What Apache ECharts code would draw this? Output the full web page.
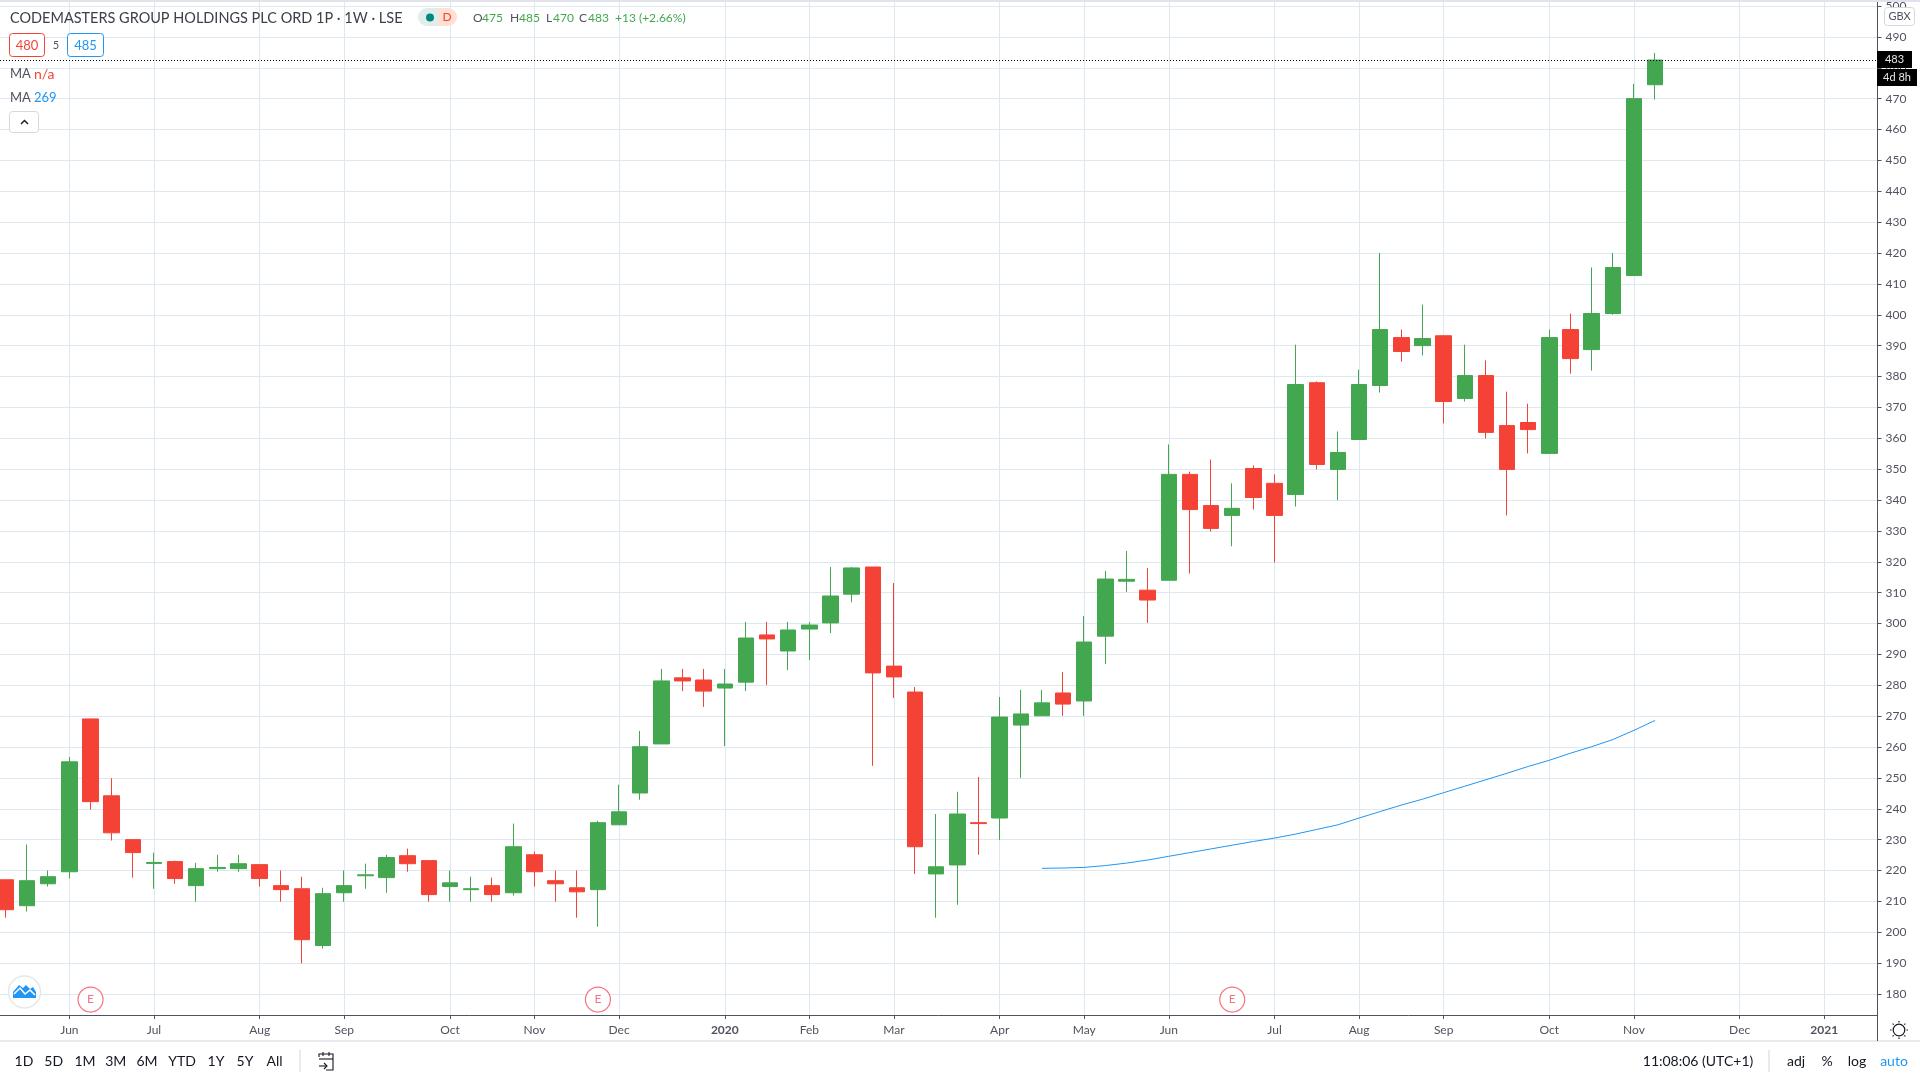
<!DOCTYPE html>
<html><head><meta charset="utf-8">
<style>html,body{margin:0;padding:0;background:#fff}#c{width:1920px;height:1080px}</style>
<script src="https://cdn.jsdelivr.net/npm/echarts@6/dist/echarts.min.js"></script>
</head><body><div id="c"></div>
<script>
const opens = [217,208.6,215.7,219.6,269.1,244.2,230,222.3,222.9,215.1,220.6,220.6,221.9,215.1,214.1,195.7,212.8,218.3,217.7,224.8,223.2,214.8,213.8,215.1,212.8,225.1,216.7,214.4,213.8,234.8,245.1,261,282.4,281.7,279.1,281,296.3,291.1,298.2,300.2,309.5,318.3,286.2,277.8,218.9,221.8,235.5,237,267.1,270.1,277.5,274.9,295.9,313.7,310.8,314,348.3,338.2,335,350.2,345.4,341.8,378,349.9,359.6,377.1,392.6,390,393.2,372.9,380.3,364.1,365.1,355.1,395.2,388.7,400.4,412.7,474.5];
const closes = [207.3,216.7,218,255.2,242.3,232.2,225.8,222.6,217.4,220.6,221,222.2,217.4,213.8,197.6,212.5,215.1,218.6,224.2,222.2,212.2,216,214.1,212.2,227.7,219.6,215.7,213.1,235.5,239,260.1,281.4,281.4,278.1,280.4,295.3,295,297.9,299.5,308.9,318,284,282.7,227.7,221.2,238.3,235.2,269.7,270.7,274.3,273.9,294,314.4,314.3,307.6,348.3,336.9,330.8,337.3,340.8,335,377.4,351.5,355.4,377.4,395.2,388.1,392.3,371.9,380.3,361.9,349.9,362.8,392.6,385.8,400.4,415.3,470,482.5];
const lows = [204.7,206.7,214.8,217.4,239.7,229.7,217.7,214.1,215.7,209.9,219.6,219.6,214.8,209.9,189.9,194.7,209.9,214.1,212.8,219.6,209.9,209.9,209.9,209.9,211.9,214.8,209.9,204.7,201.8,234.8,242.9,261,278.1,273,260.3,278.1,280.1,284.9,288.2,296.9,306.9,253.9,275.9,218.9,204.7,208.9,225.1,229.9,250,270.1,270.1,270.1,286.9,310.2,300.2,314,316.2,329.8,325,336.9,319.8,337.9,349.9,339.9,359.6,374.8,384.8,386.8,364.8,371.9,359.9,335,355.1,355.1,380.9,381.9,400,412.7,469.7];
const highs = [217,228.4,220,256.8,269.1,249.9,230,225.8,223.2,222.5,225.1,225.1,221.9,220,218,214.4,220,222.2,225.1,227.1,223.2,220,218,217.7,235.2,226.1,220,220,236.1,247.8,265.2,285.3,285.3,285.3,285.3,300.5,300.5,300.5,300.5,318.3,318.3,318.3,313.1,279.4,238.3,245.5,250.3,276.2,278.5,278.5,284.3,302.4,317,323.5,318,358,349.2,353.1,345.4,351.2,348.3,390.3,378.4,362.2,382.2,420,395.2,403.3,393.2,390.3,385.2,375.1,371.2,395.2,400.4,415.3,420,474.8,484.8];
const maStart = 49;
const maValues = [220.7,220.8,221,221.6,222.4,223.4,224.6,225.8,227,228.2,229.4,230.5,231.8,233.3,234.8,237,239.1,241.2,243.1,245.2,247.3,249.4,251.5,253.7,255.7,258,260.1,262.4,265.4,268.6];
const earningsWeeks = [4,28,58];
const monthWeeks = [3,7,12,16,21,25,29,34,38,42,47,51,55,60,64,68,73,77,82,86];
const monthLabels = ['Jun','Jul','Aug','Sep','Oct','Nov','Dec','2020','Feb','Mar','Apr','May','Jun','Jul','Aug','Sep','Oct','Nov','Dec','2021'];
const priceTicks = [180,190,200,210,220,230,240,250,260,270,280,290,300,310,320,330,340,350,360,370,380,390,400,410,420,430,440,450,460,470,480,490,500];
const lastPrice = 482.5;

const UP = '#43A74F', DOWN = '#F44336', FONT = 'Lato, "Noto Sans", sans-serif';
const TXT = '#50535E', GRID = '#DDE8F0';
const candleData = opens.map((o,i)=>[i,o,closes[i],lows[i],highs[i]]);
const maData = maValues.map((v,i)=>[maStart+i,v]);
const earnData = earningsWeeks.map(w=>[w,178.2]);

function T(x,y,text,o){o=o||{};return {type:'text',silent:true,x:x,y:y,scaleX:o.sx||1,z:50,style:{text:text,fill:o.fill||'#131722',font:(o.weight||'normal')+' '+(o.size||13)+'px '+FONT,align:o.align||'left',verticalAlign:'middle'}};}
function R(x,y,w,h,o){o=o||{};return {type:'rect',silent:true,z:o.z||40,shape:{x:x,y:y,width:w,height:h,r:o.r||0},style:{fill:o.fill||'#fff',stroke:o.stroke||null,lineWidth:o.lw||1}};}
function L(x1,y1,x2,y2,c,w){return {type:'line',silent:true,z:40,shape:{x1:x1,y1:y1,x2:x2,y2:y2},style:{stroke:c,lineWidth:w||1}};}
function P(pts,c,w){return {type:'polyline',silent:true,z:51,shape:{points:pts},style:{stroke:c,lineWidth:w||1.3,fill:null}};}

const toolbarLeft=[['1D',24],['5D',53.7],['1M',85],['3M',115.7],['6M',147],['YTD',182],['1Y',216],['5Y',245],['All',274.6]];
const gearRays=[];for(let k=0;k<8;k++){const a=k*Math.PI/4;gearRays.push(L(1899+Math.cos(a)*7.5,1030+Math.sin(a)*7.5,1899+Math.cos(a)*9,1030+Math.sin(a)*9,'#131722',1.2));}

const graphics=[
 L(0,1,1920,1,'#E0E3EB',2),
 T(10,17.5,'CODEMASTERS GROUP HOLDINGS PLC ORD 1P · 1W · LSE',{size:16,sx:0.905,fill:'#3c4048'}),
 R(418,8,20,18,{fill:'#E1ECEC',r:[9,0,0,9]}),
 R(438,8,19,18,{fill:'#FFE0D2',r:[0,9,9,0]}),
 {type:'circle',silent:true,z:51,shape:{cx:430,cy:17.5,r:4},style:{fill:'#00897B'}},
 T(447,17.5,'D',{size:12,fill:'#F44336',align:'center'}),
 T(473,18,'O',{size:12,fill:'#50535E'}),T(482,18,'475',{size:12,fill:UP}),
 T(510,18,'H',{size:12,fill:'#50535E'}),T(519,18,'485',{size:12,fill:UP}),
 T(546,18,'L',{size:12,fill:'#50535E'}),T(553,18,'470',{size:12,fill:UP}),
 T(579,18,'C',{size:12,fill:'#50535E'}),T(588,18,'483',{size:12,fill:UP}),
 T(615,18,'+13 (+2.66%)',{size:12,fill:UP}),
 R(9.5,33.5,35,23,{fill:'#fff',stroke:'#F44336',r:3}),T(27,45.5,'480',{size:13,fill:'#F44336',align:'center'}),
 T(56,45.5,'5',{size:11,fill:'#50535E',align:'center'}),
 R(67.5,33.5,36,23,{fill:'#fff',stroke:'#2196F3',r:3}),T(85.5,45.5,'485',{size:13,fill:'#2196F3',align:'center'}),
 T(10,74,'MA',{size:13,fill:'#50535E'}),T(34,74,'n/a',{size:14,fill:'#F44336'}),
 T(10,98,'MA',{size:13,fill:'#50535E'}),T(34,98,'269',{size:13,fill:'#2196F3'}),
 R(9.5,111.5,29,21,{fill:'#fff',stroke:'#D6D8DC',r:3}),
 P([[21,124],[24.5,120.5],[28,124]],'#131722',1.4),
 {type:'circle',silent:true,z:40,shape:{cx:24.5,cy:992,r:16},style:{fill:'#fff',stroke:'#E3E8EA',lineWidth:1.5}},
 {type:'polygon',silent:true,z:51,shape:{points:[[13,998],[13,992],[19,985],[23,988],[26,985],[30,989],[33,987],[36,992],[36,998]]},style:{fill:'#2196F3'}},
 P([[14,994],[20,988],[25,994],[30,990],[35,995]],'#ffffff',1.5),
 R(1884.5,7.5,30,18,{fill:'#fff',stroke:'#D6D8DC',r:3}),T(1899.5,16.5,'GBX',{size:11,fill:'#50535E',align:'center'}),
 R(1877,51,35,17,{fill:'#000'}),T(1894.5,59.5,'483',{size:11,fill:'#E8E8E8',align:'center'}),
 R(1877,69,40,17,{fill:'#000'}),T(1897,77.5,'4d 8h',{size:11,fill:'#E8E8E8',align:'center'}),
 L(0,1041,1920,1041,'#E0E3EB',1.5),
 L(1877.5,1015,1877.5,1041,'#50535E',1),
 L(300,1050,300,1072,'#D8DDE6',1.2),
 L(1769,1050,1769,1072,'#D8DDE6',1.2),
 ...toolbarLeft.map(a=>T(a[1],1061,a[0],{size:14,align:'center'})),
 {type:'polyline',silent:true,z:51,shape:{points:[[319,1057],[319,1054],[333,1054],[333,1070],[326,1070]]},style:{stroke:'#131722',lineWidth:1.1,fill:null}},
 L(319,1059,333,1059,'#131722',1.1),L(323,1052,323,1056,'#131722',1.1),L(329,1052,329,1056,'#131722',1.1),
 P([[319,1066],[327,1066]],'#131722',1.1),P([[324,1063],[327,1066],[324,1069]],'#131722',1.1),
 T(1698,1061,'11:08:06 (UTC+1)',{size:14,align:'center'}),
 T(1796,1061,'adj',{size:14,align:'center'}),T(1827,1061,'%',{size:14,align:'center'}),
 T(1857,1061,'log',{size:14,align:'center'}),T(1894,1061,'auto',{size:14,align:'center',fill:'#2196F3'}),
 {type:'circle',silent:true,z:51,shape:{cx:1899,cy:1030,r:5.8},style:{fill:'#fff',stroke:'#131722',lineWidth:1.2}},
 ...gearRays
];

const chart = echarts.init(document.getElementById('c'),null,{renderer:'canvas'});
chart.setOption({
 animation:false,
 backgroundColor:'#fff',
 grid:{left:0,right:42.5,top:0,bottom:65,containLabel:false},
 xAxis:{type:'value',min:-0.282,max:88.52,
  axisLine:{onZero:false,show:true,lineStyle:{color:TXT,width:1}},
  axisTick:{show:true,length:4,inside:false,lineStyle:{color:TXT},customValues:monthWeeks},
  axisLabel:{customValues:monthWeeks,margin:9,fontFamily:FONT,fontSize:12,color:TXT,hideOverlap:false,
    formatter:v=>{const s=monthLabels[monthWeeks.indexOf(v)]||'';return /^\d/.test(s)?'{b|'+s+'}':s;},
    rich:{b:{fontWeight:'bold',fontFamily:FONT,fontSize:12,color:TXT}}},
  splitLine:{show:true,lineStyle:{color:GRID,width:1}}},
 yAxis:{type:'value',position:'right',min:173.2,max:501.67,
  axisLine:{onZero:false,show:true,lineStyle:{color:TXT,width:1}},
  axisTick:{show:true,length:4,lineStyle:{color:TXT},customValues:priceTicks},
  axisLabel:{customValues:priceTicks,margin:8,fontFamily:FONT,fontSize:12,color:TXT,hideOverlap:false},
  splitLine:{show:true,lineStyle:{color:GRID,width:1}}},
 series:[
  {type:'candlestick',data:candleData,encode:{x:0,y:[1,2,3,4]},barWidth:16,
   itemStyle:{color:UP,color0:DOWN,borderColor:UP,borderColor0:DOWN,borderWidth:1},
   markLine:{silent:true,symbol:'none',animation:false,label:{show:false},
     lineStyle:{color:'#000',type:[1,2],width:1},data:[{yAxis:lastPrice}]}},
  {type:'line',data:maData,showSymbol:false,lineStyle:{color:'#2196F3',width:1},itemStyle:{color:'#2196F3'},z:3},
  {type:'scatter',data:earnData,symbol:'circle',symbolSize:25,silent:true,
   itemStyle:{color:'#fff',borderColor:'#F0525F',borderWidth:1.2},z:4,
   label:{show:true,position:'inside',formatter:'E',color:'#F0525F',fontSize:12,fontFamily:FONT}}
 ],
 graphic:{elements:graphics}
});
</script></body></html>
